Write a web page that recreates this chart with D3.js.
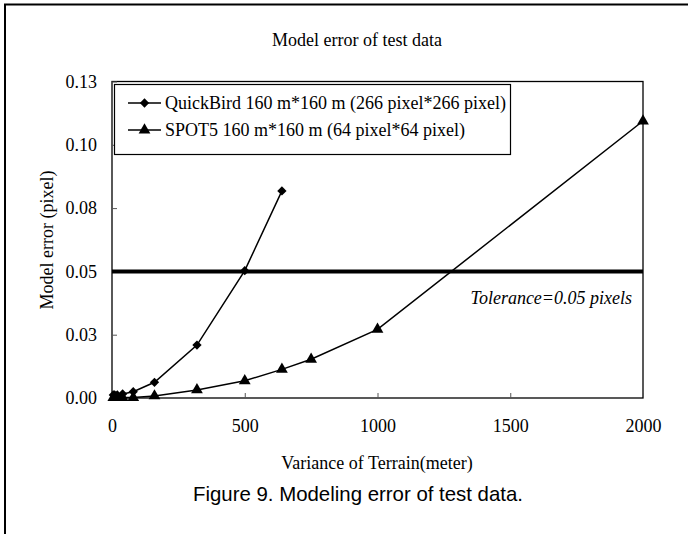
<!DOCTYPE html>
<html lang="en">
<head><meta charset="utf-8"/>
<style>
body { margin: 0; background: #fff; }
svg text { font-family: "Liberation Serif", "Times New Roman", serif; fill: #000; }
.caption { font-family: "Liberation Sans", Arial, sans-serif !important; }
</style>
</head>
<body>
<svg id="chart" width="688" height="534"></svg>
<script src="https://cdn.jsdelivr.net/npm/d3@7"></script>
<script>
// values
var qbX = [5, 10, 20, 40, 80, 160, 320, 500, 640];
var qbY = [0.0012, 0.0012, 0.0012, 0.0016, 0.0025, 0.0062, 0.0209, 0.0503, 0.0818];
var spotX = [5, 10, 20, 40, 80, 160, 320, 500, 640, 750, 1000, 2000];
var spotY = [0.0002, 0.0002, 0.0002, 0.0002, 0.0002, 0.0008, 0.0032, 0.0068, 0.0113, 0.0153, 0.0271, 0.1094];
var seriesNames = ["QuickBird 160 m*160 m (266 pixel*266 pixel)", "SPOT5 160 m*160 m (64 pixel*64 pixel)"];
var xTicks = [0, 500, 1000, 1500, 2000];
var yTicks = [0, 0.025, 0.05, 0.075, 0.1, 0.125];
var yTickLabels = ["0.00", "0.03", "0.05", "0.08", "0.10", "0.13"];
var tolerance = 0.05;

var svg = d3.select("#chart");
var pLeft = 112, pRight = 643, pTop = 81.5, pBottom = 398;
var fs = "18px";

var x = d3.scaleLinear().domain([0, 2000]).range([pLeft, pRight]);
var y = d3.scaleLinear().domain([0, 0.125]).range([pBottom, pTop]);

// outer frame (top and left only)
svg.append("line").attr("x1", 4).attr("x2", 688).attr("y1", 4.5).attr("y2", 4.5)
	.attr("stroke", "#000").attr("stroke-width", 2);
svg.append("line").attr("x1", 5).attr("x2", 5).attr("y1", 4).attr("y2", 534)
	.attr("stroke", "#000").attr("stroke-width", 2);

svg.append("text").attr("x", 357).attr("y", 46).attr("text-anchor", "middle")
	.style("font-size", fs).text("Model error of test data");

// plot box
svg.append("rect").attr("x", pLeft).attr("y", pTop).attr("width", pRight - pLeft).attr("height", pBottom - pTop)
	.attr("fill", "none").attr("stroke", "#000").attr("stroke-width", 1.3);

var ax = svg.append("g").attr("transform", "translate(0," + pBottom + ")")
	.call(d3.axisBottom(x).tickValues(xTicks).tickFormat(d3.format("d"))
		.tickSizeInner(-5).tickSizeOuter(0).tickPadding(20));
var ay = svg.append("g").attr("transform", "translate(" + pLeft + ",0)")
	.call(d3.axisLeft(y).tickValues(yTicks).tickFormat((d, i) => yTickLabels[i])
		.tickSizeInner(-5).tickSizeOuter(0).tickPadding(15));
[ax, ay].forEach(function(a){
	a.select(".domain").remove();
	a.selectAll("line").attr("stroke", "#555");
	a.selectAll("text").style("font-size", fs).style("font-family", "Liberation Serif, serif");
});
ax.selectAll("text").attr("dy", "0.8em");

svg.append("text").attr("x", 377).attr("y", 469).attr("text-anchor", "middle")
	.style("font-size", fs).text("Variance of Terrain(meter)");
svg.append("text").attr("transform", "translate(53,240) rotate(-90)").attr("text-anchor", "middle")
	.style("font-size", fs).text("Model error (pixel)");

// tolerance line
svg.append("line").attr("x1", x(0)).attr("x2", x(2000)).attr("y1", y(tolerance)).attr("y2", y(tolerance))
	.attr("stroke", "#000").attr("stroke-width", 4);
svg.append("text").attr("x", 632).attr("y", 304).attr("text-anchor", "end")
	.style("font-size", fs).style("font-style", "italic").text("Tolerance=0.05 pixels");

var line = d3.line().x(d => x(d[0])).y(d => y(d[1]));
var qb = qbX.map((v, i) => [v, qbY[i]]);
var spot = spotX.map((v, i) => [v, spotY[i]]);

var diamond = d3.symbol().type(d3.symbolDiamond2).size(55);
var tri = d3.symbol().type(d3.symbolTriangle).size(60);

[[qb, diamond], [spot, tri]].forEach(function(s){
	svg.append("path").attr("d", line(s[0])).attr("fill", "none")
		.attr("stroke", "#000").attr("stroke-width", 1.5);
	svg.selectAll(null).data(s[0]).enter().append("path")
		.attr("transform", d => "translate(" + x(d[0]) + "," + y(d[1]) + ")")
		.attr("d", s[1]).attr("fill", "#000");
});

// legend
var lg = svg.append("g");
lg.append("rect").attr("x", 114.5).attr("y", 84.5).attr("width", 396).attr("height", 70)
	.attr("fill", "#fff").attr("stroke", "#000").attr("stroke-width", 1.2);
seriesNames.forEach(function(n, i){
	var ly = 103 + i * 27;
	lg.append("line").attr("x1", 128).attr("x2", 161).attr("y1", ly).attr("y2", ly)
		.attr("stroke", "#000").attr("stroke-width", 1.5);
	lg.append("path").attr("transform", "translate(144.5," + ly + ")")
		.attr("d", i == 0 ? diamond : tri).attr("fill", "#000");
	lg.append("text").attr("x", 165).attr("y", ly + 6).style("font-size", fs).text(n);
});

svg.append("text").attr("class", "caption").attr("x", 358).attr("y", 501).attr("text-anchor", "middle")
	.attr("textLength", 330).attr("lengthAdjust", "spacingAndGlyphs")
	.style("font-size", "21px").text("Figure 9. Modeling error of test data.");
</script>
</body>
</html>
